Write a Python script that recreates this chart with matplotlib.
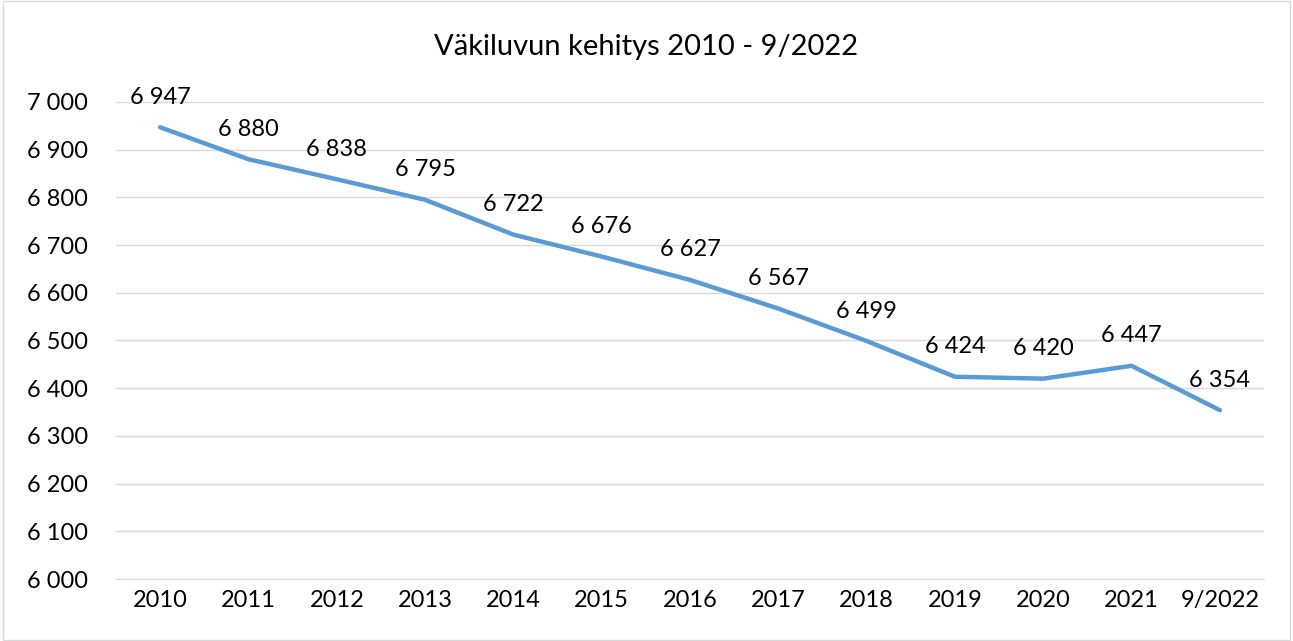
import matplotlib
matplotlib.use("Agg")
import matplotlib.pyplot as plt
from matplotlib.patches import Rectangle

# Data
years = ["2010", "2011", "2012", "2013", "2014", "2015", "2016",
         "2017", "2018", "2019", "2020", "2021", "9/2022"]
population = [6947, 6880, 6838, 6795, 6722, 6676, 6627,
              6567, 6499, 6424, 6420, 6447, 6354]
y_ticks = list(range(6000, 7001, 100))


def fmt(v):
    return f"{v:,}".replace(",", " ")


plt.rcParams["font.family"] = ["Lato", "DejaVu Sans"]

fig = plt.figure(figsize=(12.93, 6.41), dpi=100)
ax = fig.add_axes([116 / 1293, 1 - 579 / 641, 1148 / 1293, 477 / 641])

x = list(range(len(years)))
ax.plot(x, population, color="#5B9BD5", linewidth=3.2, solid_capstyle="round")

for xi, v in zip(x, population):
    ax.annotate(fmt(v), (xi, v), xytext=(0, 14), textcoords="offset points",
                ha="center", va="bottom", fontsize=17, color="#000000")

ax.set_xlim(-0.5, len(years) - 0.5)
ax.set_ylim(6000, 7000)
ax.set_yticks(y_ticks)
ax.set_yticklabels([fmt(t) for t in y_ticks], fontsize=17)
ax.set_xticks(x)
ax.set_xticklabels(years, fontsize=17)
ax.tick_params(axis="x", length=0, pad=8)
ax.tick_params(axis="y", length=0, pad=20)
ax.grid(axis="y", color="#D9D9D9", linewidth=1)
ax.set_axisbelow(True)
for side in ["top", "right", "left"]:
    ax.spines[side].set_visible(False)
ax.spines["bottom"].set_color("#D9D9D9")

fig.text(0.5, 1 - 47 / 641, "Väkiluvun kehitys 2010 - 9/2022",
         ha="center", va="center", fontsize=21, color="#000000")

fig.patches.append(Rectangle((0.002, 0.002), 0.996, 0.996, transform=fig.transFigure,
                             fill=False, edgecolor="#D9D9D9", linewidth=1))

fig.savefig("out.png", dpi=100, facecolor="white")
